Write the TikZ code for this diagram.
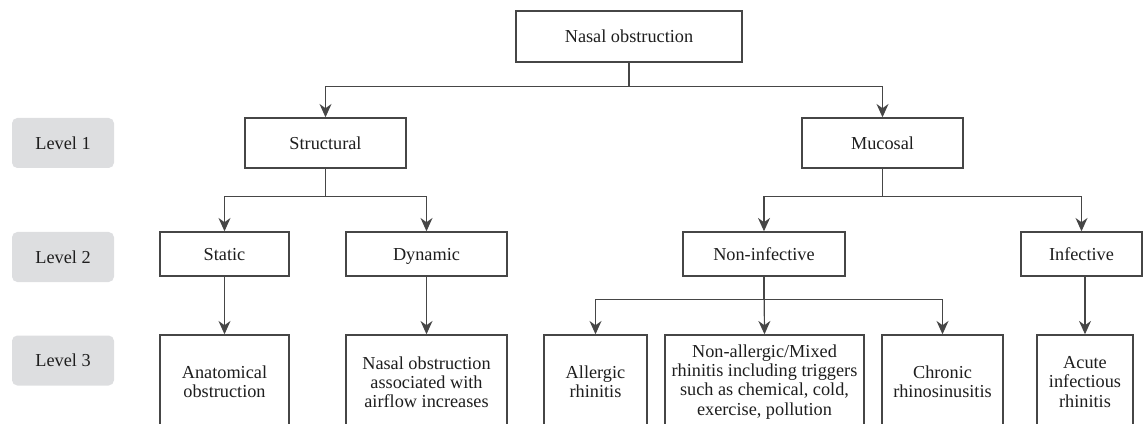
\documentclass[tikz,border=0pt]{standalone}
\usepackage{fontspec}
\setmainfont{Liberation Serif}
\usetikzlibrary{arrows.meta,positioning}
\definecolor{linegray}{RGB}{70,70,70}
\definecolor{levelfill}{RGB}{221,222,224}
\definecolor{textdark}{RGB}{30,30,30}

\begin{document}
\begin{tikzpicture}[x=0.75pt, y=-0.75pt,
  box/.style={draw=linegray, line width=1.1pt, fill=white, align=center,
              font=\fontsize{13.7}{14.4}\selectfont, text=textdark, inner sep=2pt},
  oneline/.style={text height=12.5pt, text depth=3pt},
  lvl/.style={fill=levelfill, rounded corners=4pt, minimum width=76.5pt, minimum height=37.5pt,
              font=\fontsize{13.7}{14.4}\selectfont, text=textdark},
  arr/.style={-{Stealth[length=10pt,width=9pt]}, draw=linegray, line width=0.9pt}
]
  \useasboundingbox (0,0) rectangle (1143,424);
  % levels
  \node[lvl] (lvl1) at (63,143) {Level 1};
  \node[lvl] (lvl2) at (63,257) {Level 2};
  \node[lvl] (lvl3) at (63,360.5) {Level 3};
  % top and level 1
  \node[box, oneline, minimum width=169.5pt, minimum height=38.25pt] (root) at (629,36.5) {Nasal obstruction};
  \node[box, oneline, minimum width=120.75pt, minimum height=37.5pt] (struct) at (325.5,143) {Structural};
  \node[box, oneline, minimum width=120.75pt, minimum height=37.5pt] (mucosal) at (882.5,143) {Mucosal};
  % level 2
  \node[box, oneline, minimum width=96.75pt, minimum height=33pt] (static) at (224.5,254) {Static};
  \node[box, oneline, minimum width=120.75pt, minimum height=33pt] (dynamic) at (426.5,254) {Dynamic};
  \node[box, oneline, minimum width=121.5pt, minimum height=33pt] (noninf) at (764,254) {Non-infective};
  \node[box, oneline, minimum width=90.75pt, minimum height=33pt] (inf) at (1081.5,254) {Infective};
  % level 3
  \node[box, minimum width=96.75pt, minimum height=70.5pt] (anat) at (224.5,382) {Anatomical\\obstruction};
  \node[box, minimum width=120.75pt, minimum height=70.5pt] (assoc) at (426.5,382) {Nasal obstruction\\associated with\\airflow increases};
  \node[box, minimum width=77.25pt, minimum height=70.5pt] (allergic) at (595.5,382) {Allergic\\rhinitis};
  \node[box, minimum width=149.25pt, minimum height=70.5pt] (nonallergic) at (764.5,382) {Non-allergic/Mixed\\rhinitis including triggers\\such as chemical, cold,\\exercise, pollution};
  \node[box, minimum width=90.75pt, minimum height=70.5pt] (chronic) at (942.5,382) {Chronic\\rhinosinusitis};
  \node[box, minimum width=72pt, minimum height=70.5pt] (acute) at (1085,382) {Acute\\infectious\\rhinitis};
  % connectors
  \draw[arr] (root.south) -- ++(0,24) -| (struct.north);
  \draw[arr] (root.south) -- ++(0,24) -| (mucosal.north);
  \draw[arr] (struct.south) -- ++(0,28) -| (static.north);
  \draw[arr] (struct.south) -- ++(0,28) -| (dynamic.north);
  \draw[arr] (mucosal.south) -- ++(0,28) -| (noninf.north);
  \draw[arr] (mucosal.south) -- ++(0,28) -| (inf.north);
  \draw[arr] (static) -- (anat);
  \draw[arr] (dynamic) -- (assoc);
  \draw[arr] (acute.north |- inf.south) -- (acute.north);
  \draw[arr] (noninf.south) -- ++(0,23) -| (allergic.north);
  \draw[arr] (noninf.south) -- ++(0,23) -| (chronic.north);
  \draw[arr] (noninf.south) -- (nonallergic.north);
\end{tikzpicture}
\end{document}
